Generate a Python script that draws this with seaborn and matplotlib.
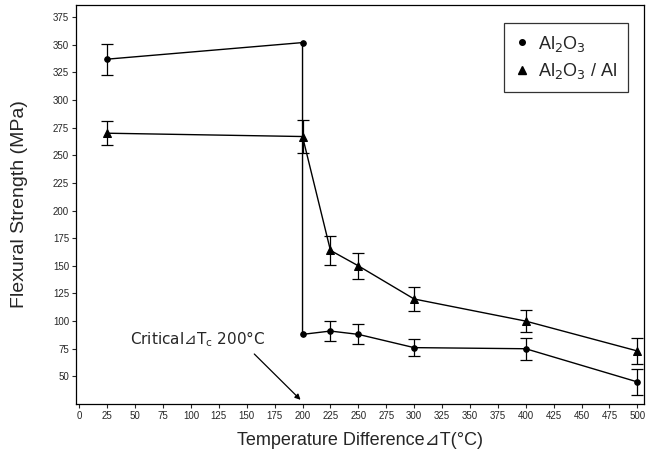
import numpy as np
import pandas as pd
import matplotlib
matplotlib.use("Agg")
import matplotlib.pyplot as plt
import seaborn as sns

# values
alumina_x   = [25, 200, 200, 225, 250, 300, 400, 500]
alumina_y   = [337, 352, 88, 91, 88, 76, 75, 45]
alumina_err = [14, 0, 0, 9, 9, 8, 10, 12]

composite_x   = [25, 200, 225, 250, 300, 400, 500]
composite_y   = [270, 267, 164, 150, 120, 100, 73]
composite_err = [11, 15, 13, 12, 11, 10, 12]

x_ticks = list(range(0, 501, 25))
y_ticks = list(range(50, 376, 25))

label_a = r"Al$_2$O$_3$"
label_b = r"Al$_2$O$_3$ / Al"

sns.set_theme(style="ticks")
plt.rcParams["font.family"] = ["Liberation Sans", "DejaVu Sans"]
plt.rcParams["mathtext.fontset"] = "dejavusans"

df_a = pd.DataFrame({"x": alumina_x, "y": alumina_y, "err": alumina_err})
df_b = pd.DataFrame({"x": composite_x, "y": composite_y, "err": composite_err})

fig = plt.figure(figsize=(6.46, 4.61), dpi=100)
ax = fig.add_axes([76 / 646, 57 / 461, 568 / 646, 399 / 461])

sns.lineplot(data=df_a, x="x", y="y", marker="o", color="black", markersize=4,
             markeredgecolor="black", estimator=None, sort=False, lw=1.0, ax=ax)
sns.lineplot(data=df_b, x="x", y="y", marker="^", color="black", markersize=6,
             markeredgecolor="black", estimator=None, sort=False, lw=1.0, ax=ax)

for d in (df_a, df_b):
    d = d[d["err"] > 0]
    ax.errorbar(d["x"], d["y"], yerr=d["err"], fmt="none", ecolor="black",
                elinewidth=0.9, capsize=4, capthick=0.9)

ax.set_xlim(-3, 506)
ax.set_ylim(25, 386)
ax.set_xticks(x_ticks)
ax.set_yticks(y_ticks)
ax.tick_params(labelsize=7, length=3, width=0.8, pad=2)
for s in ax.spines.values():
    s.set_linewidth(0.9)
    s.set_color("black")

ax.set_xlabel("Temperature Difference\u22bfT(\u00b0C)", fontsize=13, labelpad=8)
ax.set_ylabel("Flexural Strength (MPa)", fontsize=14, labelpad=18)

ax.text(45, 84, "Critical\u22bfT$_\\mathrm{c}$ 200\u00b0C", fontsize=11,
        family="DejaVu Sans", va="center", ha="left")
ax.annotate("", xy=(200, 27), xytext=(155, 72),
            arrowprops=dict(arrowstyle="-|>", color="black", lw=0.9, mutation_scale=8))

handles = [
    plt.Line2D([], [], marker="o", color="black", ls="none", markersize=4),
    plt.Line2D([], [], marker="^", color="black", ls="none", markersize=6),
]
leg = ax.legend(handles, [label_a, label_b], loc="upper right", fontsize=13,
                frameon=True, fancybox=False, edgecolor="black", handlelength=0.8,
                handletextpad=0.5, borderpad=0.6, labelspacing=0.4, borderaxespad=0,
                bbox_to_anchor=(0.972, 0.955))
leg.get_frame().set_linewidth(0.9)

fig.savefig("out.png", dpi=100)
